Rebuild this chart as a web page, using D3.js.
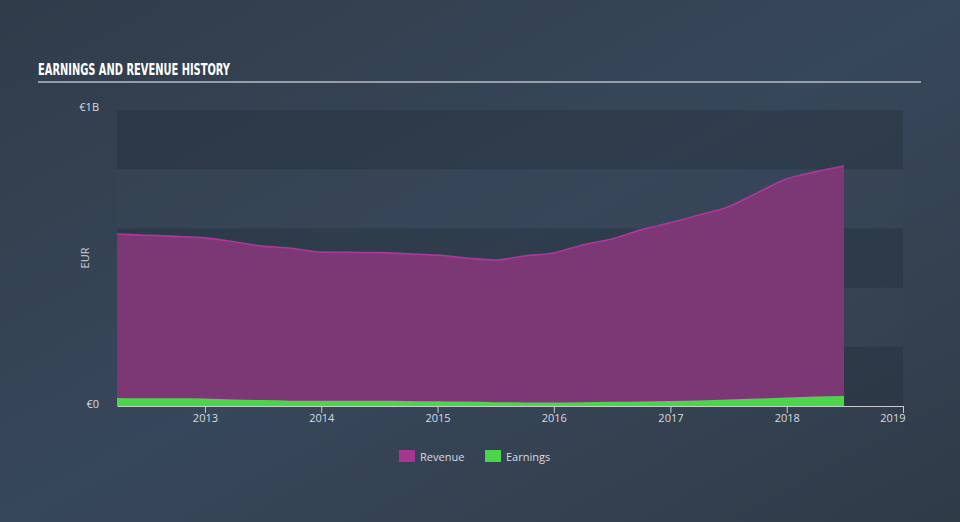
<!DOCTYPE html>
<html><head><meta charset="utf-8">
<script src="https://cdn.jsdelivr.net/npm/d3@7"></script>
<style>
html,body{margin:0;padding:0;background:#344150;}
svg{display:block;}
</style></head>
<body>
<svg id="chart" width="960" height="522"></svg>
<script>
const quarters = ["2012-03-31","2012-06-30","2012-09-30","2012-12-31","2013-03-31","2013-06-30","2013-09-30","2013-12-31","2014-03-31","2014-06-30","2014-09-30","2014-12-31","2015-03-31","2015-06-30","2015-09-30","2015-12-31","2016-03-31","2016-06-30","2016-09-30","2016-12-31","2017-03-31","2017-06-30","2017-09-30","2017-12-31","2018-03-31","2018-06-30"];
const revenue = [581,577,573,568,555,540,533,520,519,518,514,510,500,493,507,517,544,564,595,619,645,672,720,767,791,811];
const earnings = [27,26,26,25,22,20,18,18,18,18,17,16,15,13,12,12,13,14,15,17,19,22,25,29,32,34];
const yTickLabels = ["€0","€1B"];
const yearTicks = [2013,2014,2015,2016,2017,2018,2019];
const legendItems = ["Revenue","Earnings"];

const svg = d3.select("#chart");
const W = 960, H = 522;
const defs = svg.append("defs");
const bg = defs.append("linearGradient").attr("id","bg").attr("x1","0").attr("y1","0").attr("x2","1").attr("y2","1");
bg.append("stop").attr("offset","0").attr("stop-color","#303c4a");
bg.append("stop").attr("offset","0.5").attr("stop-color","#37475a");
bg.append("stop").attr("offset","1").attr("stop-color","#303b48");
svg.append("rect").attr("width",W).attr("height",H).attr("fill","url(#bg)");

const pL = 117, pR = 903, pT = 110, pB = 406;
const parse = d3.timeParse("%Y-%m-%d");
const data = quarters.map((q,i)=>({d:parse(q), r:revenue[i]*1e6, e:earnings[i]*1e6}));
const x = d3.scaleTime().domain([parse("2012-03-31"), new Date(2019,0,1)]).range([pL, pR]);
const y = d3.scaleLinear().domain([0,1e9]).range([pB, pT]);

// bands
const bandEdges = d3.range(0,6).map(i=>i*0.2e9);
for (let i=0;i<5;i++){
  svg.append("rect").attr("x",pL).attr("width",pR-pL)
    .attr("y",y(bandEdges[i+1])).attr("height",y(bandEdges[i])-y(bandEdges[i+1]))
    .attr("fill", i%2===0 ? "#26313e" : "#3a4858").attr("opacity", i%2===0?0.45:0.15);
}

// title
svg.append("text").attr("x",38).attr("y",75).text("EARNINGS AND REVENUE HISTORY")
  .attr("fill","#ffffff").attr("font-family","'DejaVu Sans Condensed','Liberation Sans Narrow',sans-serif")
  .attr("font-weight","bold").attr("font-size",15).attr("textLength",192).attr("lengthAdjust","spacingAndGlyphs");
svg.append("line").attr("x1",38).attr("x2",921).attr("y1",82).attr("y2",82).attr("stroke","#b8bcc4").attr("stroke-width",1.5);

const curve = d3.curveMonotoneX;
const areaR = d3.area().x(d=>x(d.d)).y0(y(0)).y1(d=>y(d.r)).curve(curve);
const lineR = d3.line().x(d=>x(d.d)).y(d=>y(d.r)).curve(curve);
const areaE = d3.area().x(d=>x(d.d)).y0(y(0)).y1(d=>y(d.e)).curve(curve);
svg.append("path").datum(data).attr("d",areaR).attr("fill","#7b3874");
svg.append("path").datum(data).attr("d",lineR).attr("fill","none").attr("stroke","#b0369c").attr("stroke-width",1.6);
svg.append("path").datum(data).attr("d",areaE).attr("fill","#4cd44c");

// x axis
const xAxis = d3.axisBottom(x).tickValues(yearTicks.map(yr=>new Date(yr,0,1))).tickFormat(d3.timeFormat("%Y")).tickSize(7).tickSizeOuter(0);
const gx = svg.append("g").attr("transform",`translate(0,${pB})`).call(xAxis);
gx.select(".domain").attr("stroke","#c8ccd2").attr("stroke-width",1.2);
gx.selectAll(".tick line").attr("stroke","#c8ccd2");
gx.selectAll("text").attr("fill","#d8dce0").attr("font-size",11).attr("font-family","'Open Sans',sans-serif").attr("dy","0.55em");
gx.selectAll(".tick").filter(d=>d.getFullYear()===2019).select("text").attr("text-anchor","end").attr("dx","2");

// y labels
const yAxis = d3.axisLeft(y).tickValues([0,1e9]).tickFormat((d,i)=>yTickLabels[i]).tickSize(0);
const gy = svg.append("g").attr("transform",`translate(${pL-15},0)`).call(yAxis);
gy.select(".domain").remove();
gy.selectAll("text").attr("fill","#d8dce0").attr("font-size",11).attr("font-family","'Open Sans',sans-serif");
gy.selectAll(".tick").filter(d=>d===1e9).select("text").attr("dy","0.0em");
gy.selectAll(".tick").filter(d=>d===0).select("text").attr("dy","0.1em");

svg.append("text").attr("transform","translate(89,258) rotate(-90)").attr("text-anchor","middle")
  .text("EUR").attr("fill","#c8ccd2").attr("font-size",11).attr("font-family","'Open Sans',sans-serif");

// legend
const colors = ["#a4378f","#4cd44c"];
const lg = svg.append("g").attr("transform","translate(399,450)");
legendItems.forEach((t,i)=>{
  const g = lg.append("g").attr("transform",`translate(${i*86},0)`);
  g.append("rect").attr("width",16).attr("height",12).attr("fill",colors[i]);
  g.append("text").attr("x",21).attr("y",10.5).text(t).attr("fill","#d8dce0").attr("font-size",11).attr("font-family","'Open Sans',sans-serif");
});
</script>
</body></html>
